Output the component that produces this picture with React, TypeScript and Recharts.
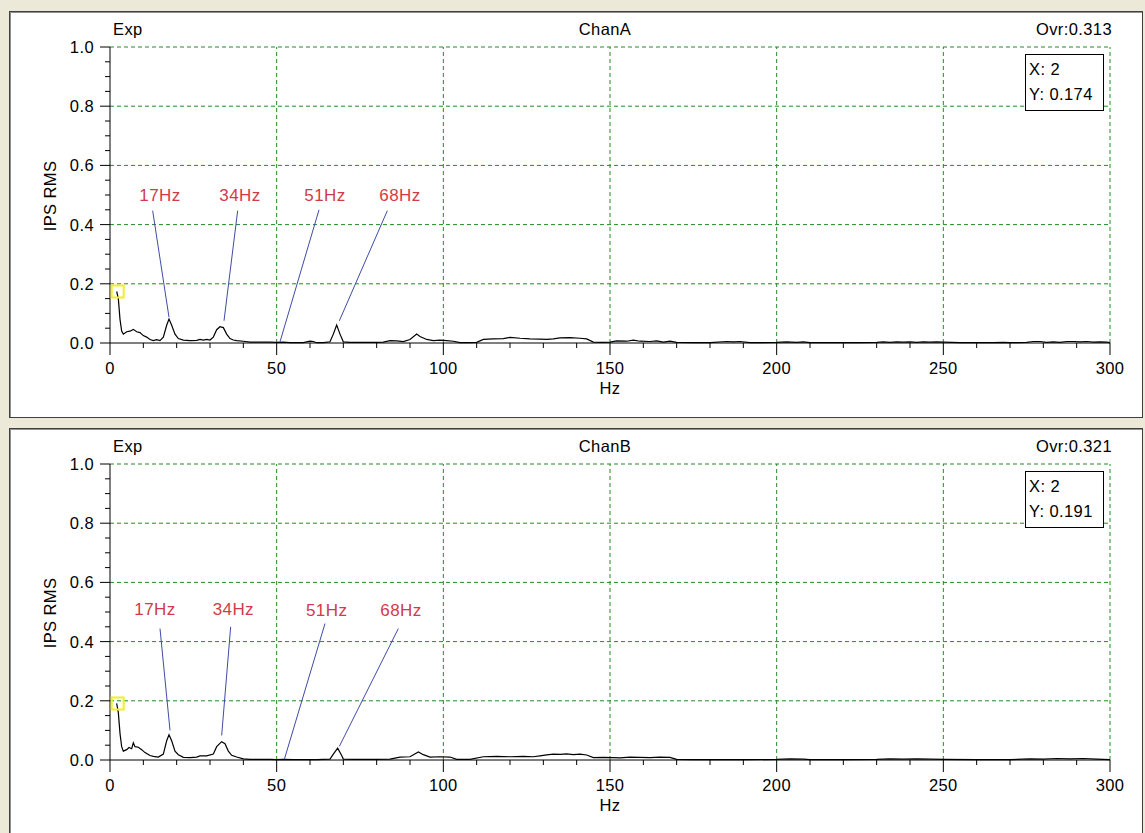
import React from 'react';
import { LineChart, Line, XAxis, YAxis, ReferenceLine, ReferenceDot } from 'recharts';

// spectrum: [Hz, IPS RMS]
const chanA: [number, number][] = [
  [2, 0.174], [2.5, 0.15], [3, 0.08], [3.5, 0.04], [4, 0.03], [5, 0.038], [6, 0.04], [7, 0.046], [8, 0.038],
  [9, 0.035], [10, 0.025], [11, 0.02], [12, 0.012], [13, 0.008], [14, 0.011], [15, 0.008], [16, 0.02],
  [17, 0.06], [17.7, 0.081], [18.5, 0.06], [19.5, 0.03], [20.5, 0.015], [22, 0.01], [24, 0.008], [26, 0.009],
  [27, 0.012], [28, 0.01], [29, 0.012], [30, 0.01], [31, 0.02], [32, 0.045], [33, 0.055], [34, 0.052],
  [35, 0.03], [36, 0.015], [37, 0.01], [38, 0.008], [40, 0.006], [42, 0.003], [45, 0.003], [48, 0.003],
  [50, 0.002], [52, 0.003], [54, 0.001], [56, 0.001], [58, 0.001], [60, 0.006], [61, 0.005], [62, 0.001],
  [64, 0.001], [66, 0.004], [67, 0.03], [68, 0.061], [69, 0.03], [70, 0.004], [72, 0.002], [75, 0.002],
  [78, 0.002], [80, 0.002], [82, 0.003], [84, 0.008], [86, 0.007], [88, 0.005], [90, 0.012], [92, 0.03],
  [93, 0.022], [95, 0.012], [97, 0.008], [99, 0.01], [101, 0.008], [103, 0.006], [105, 0.001], [108, 0.001],
  [110, 0.002], [112, 0.012], [115, 0.014], [118, 0.015], [120, 0.019], [123, 0.016], [126, 0.014],
  [129, 0.013], [131, 0.012], [133, 0.014], [135, 0.017], [138, 0.018], [141, 0.016], [143, 0.014],
  [145, 0.003], [148, 0.002], [150, 0.003], [152, 0.007], [155, 0.006], [157, 0.01], [159, 0.006],
  [162, 0.005], [164, 0.007], [166, 0.003], [168, 0.006], [170, 0.002], [175, 0.001], [180, 0.001],
  [185, 0.005], [187, 0.004], [189, 0.005], [192, 0.001], [195, 0.001], [200, 0.002], [203, 0.004],
  [206, 0.002], [208, 0.004], [210, 0.001], [215, 0.001], [220, 0.001], [225, 0.001], [230, 0.002],
  [232, 0.004], [234, 0.002], [236, 0.004], [238, 0.003], [240, 0.004], [242, 0.002], [244, 0.004],
  [246, 0.003], [248, 0.004], [250, 0.003], [255, 0.001], [260, 0.001], [265, 0.001], [268, 0.002],
  [270, 0.001], [275, 0.002], [277, 0.005], [279, 0.005], [281, 0.002], [283, 0.004], [285, 0.002],
  [287, 0.005], [289, 0.005], [291, 0.004], [293, 0.005], [295, 0.003], [297, 0.004], [299, 0.003], [300, 0.001],
];

const chanB: [number, number][] = [
  [2, 0.191], [2.5, 0.16], [3, 0.09], [3.5, 0.045], [4, 0.03], [5, 0.035], [5.7, 0.042], [6.5, 0.038],
  [7, 0.058], [7.5, 0.045], [8.5, 0.043], [9.5, 0.035], [10.5, 0.025], [12, 0.015], [13, 0.012],
  [14.5, 0.01], [16, 0.02], [17, 0.065], [17.7, 0.085], [18.5, 0.065], [19.5, 0.03], [20.5, 0.018],
  [22, 0.009], [24, 0.008], [26, 0.01], [27, 0.014], [29, 0.014], [31, 0.02], [32, 0.045], [33.5, 0.062],
  [34.5, 0.055], [35.5, 0.03], [36.5, 0.016], [38, 0.01], [40, 0.004], [42, 0.002], [45, 0.002], [48, 0.002],
  [50, 0.001], [52, 0.002], [55, 0.001], [58, 0.001], [62, 0.001], [66, 0.003], [67, 0.02], [68.3, 0.04],
  [69.5, 0.015], [70, 0.003], [73, 0.002], [76, 0.002], [80, 0.002], [84, 0.003], [87, 0.01], [90, 0.011],
  [92.5, 0.027], [94, 0.018], [96, 0.01], [99, 0.011], [102, 0.01], [104, 0.002], [108, 0.002],
  [112, 0.011], [116, 0.012], [120, 0.011], [124, 0.012], [127, 0.011], [129, 0.014], [131, 0.017],
  [133, 0.02], [135, 0.019], [137, 0.021], [139, 0.018], [141, 0.02], [143, 0.017], [145, 0.008],
  [148, 0.009], [151, 0.008], [153, 0.007], [156, 0.01], [159, 0.009], [162, 0.008], [165, 0.01],
  [168, 0.009], [170, 0.002], [175, 0.001], [180, 0.001], [190, 0.001], [200, 0.002], [204, 0.004],
  [208, 0.003], [210, 0.001], [220, 0.001], [230, 0.002], [234, 0.004], [238, 0.003], [242, 0.004],
  [246, 0.003], [250, 0.002], [260, 0.001], [270, 0.001], [276, 0.004], [280, 0.003], [284, 0.005],
  [288, 0.004], [292, 0.005], [296, 0.003], [300, 0.001],
];

const xMajor = [0, 50, 100, 150, 200, 250, 300];
const xTicks = [0, 10, 20, 30, 40, 50, 60, 70, 80, 90, 100, 110, 120, 130, 140, 150, 160, 170, 180, 190, 200,
  210, 220, 230, 240, 250, 260, 270, 280, 290, 300];
const yMajor = [0, 0.2, 0.4, 0.6, 0.8, 1.0];
const yTicks = [0, 0.05, 0.1, 0.15, 0.2, 0.25, 0.3, 0.35, 0.4, 0.45, 0.5, 0.55, 0.6, 0.65, 0.7, 0.75, 0.8,
  0.85, 0.9, 0.95, 1.0];
const gridX = [50, 100, 150, 200, 250, 300];
const gridY = [0.2, 0.4, 0.6, 0.8, 1.0];

const harmonics = ['17Hz', '34Hz', '51Hz', '68Hz'];
// label anchor and pointer ends, per panel, in Hz / IPS
const labelsA: [number, number][] = [[15, 0.5], [39, 0.5], [64.5, 0.5], [87, 0.5]];
const pointersA: [number, number, number, number][] = [
  [12.8, 0.447, 17.7, 0.087], [38.3, 0.447, 34.2, 0.075], [62.7, 0.45, 51, 0.004], [83.2, 0.447, 68.8, 0.075],
];
const labelsB: [number, number][] = [[13.5, 0.51], [37, 0.51], [65, 0.506], [87.3, 0.506]];
const pointersB: [number, number, number, number][] = [
  [15, 0.444, 18, 0.1], [36.2, 0.45, 33.5, 0.083], [64.5, 0.461, 52.3, 0.002], [86.5, 0.444, 68.8, 0.046],
];

const FONT = '"Liberation Sans", Arial, sans-serif';
const GRID = '#238a23';
const FS = 16.5;

const XTick = (props: any) => {
  const { x, y, payload } = props;
  const major = xMajor.includes(payload.value);
  return (
    <g>
      <line x1={x} y1={y} x2={x} y2={y + (major ? 12 : 5)} stroke="#000" />
      {major && (
        <text x={x} y={y + 25} textAnchor="middle" dominantBaseline="central" fontSize={FS} fill="#000" fontFamily={FONT} letterSpacing={0.4}>
          {payload.value}
        </text>
      )}
    </g>
  );
};

const YTick = (props: any) => {
  const { x, y, payload } = props;
  const major = yMajor.includes(payload.value);
  return (
    <g>
      <line x1={x - (major ? 10 : 5)} y1={y} x2={x} y2={y} stroke="#000" />
      {major && (
        <text x={x - 16} y={y} textAnchor="end" dominantBaseline="central" fontSize={FS} fill="#000" fontFamily={FONT} letterSpacing={0.4}>
          {payload.value.toFixed(1)}
        </text>
      )}
    </g>
  );
};

interface PanelProps {
  top: number;
  name: string;
  ovr: string;
  series: [number, number][];
  labels: [number, number][];
  pointers: [number, number, number, number][];
}

const Panel = ({ top, name, ovr, series, labels, pointers }: PanelProps) => {
  const data = series.map(([hz, v]) => ({ hz, v }));
  const [cx, cy] = series[0];
  const text: React.CSSProperties = { position: 'absolute', fontSize: FS, lineHeight: '20px', color: '#000', whiteSpace: 'nowrap', letterSpacing: 0.4 };
  return (
    <div style={{ position: 'absolute', left: 9, top, width: 1132, height: 405, background: '#fff', border: '1px solid #404040', boxShadow: 'inset 1px 1px 0 #909090' }}>
      <LineChart width={1132} height={405} data={data} margin={{ top: 35, right: 32, bottom: 34, left: 40 }}>
        <XAxis type="number" dataKey="hz" domain={[0, 300]} ticks={xTicks} interval={0} tick={<XTick />} tickLine={false} tickSize={0} tickMargin={0} height={40} axisLine={{ stroke: '#000' }} />
        <YAxis type="number" domain={[0, 1]} ticks={yTicks} interval={0} tick={<YTick />} tickLine={false} tickSize={0} tickMargin={0} width={60} axisLine={{ stroke: '#000' }} />
        {gridY.map((g) => (
          <ReferenceLine key={`gy${g}`} y={g} stroke={GRID} strokeDasharray="4 3" />
        ))}
        {gridX.map((g) => (
          <ReferenceLine key={`gx${g}`} x={g} stroke={GRID} strokeDasharray="4 3" />
        ))}
        <Line type="linear" dataKey="v" stroke="#000" strokeWidth={1.2} dot={false} isAnimationActive={false} />
        <ReferenceDot x={cx} y={cy} r={6} shape={(p: any) => (
          <rect x={p.cx - 5} y={p.cy - 6} width={12} height={12} fill="none" stroke="#f2f020" strokeWidth={2} />
        )} />
        {pointers.map(([x1, y1, x2, y2], i) => (
          <ReferenceLine key={`p${i}`} segment={[{ x: x1, y: y1 }, { x: x2, y: y2 }]} stroke="#3f4ca4" strokeWidth={1} />
        ))}
        {labels.map(([lx, ly], i) => (
          <ReferenceDot key={`l${i}`} x={lx} y={ly} r={1} shape={(p: any) => (
            <text x={p.cx} y={p.cy} textAnchor="middle" dominantBaseline="central" fontSize={17} fill="#d23a48" fontFamily={FONT} letterSpacing={0.4}>
              {harmonics[i]}
            </text>
          )} />
        ))}
      </LineChart>
      <div style={{ ...text, left: 103, top: 7 }}>Exp</div>
      <div style={{ ...text, left: 545, width: 100, top: 7, textAlign: 'center' }}>{name}</div>
      <div style={{ ...text, right: 30, top: 7 }}>{ovr}</div>
      <div style={{ ...text, left: 575, width: 50, top: 366, textAlign: 'center' }}>Hz</div>
      <div style={{ ...text, left: -10, top: 174, width: 100, textAlign: 'center', transform: 'rotate(-90deg)' }}>IPS RMS</div>
      <div style={{ position: 'absolute', left: 1015, top: 42, width: 79, height: 57, border: '1px solid #000', background: '#fff', fontSize: FS, letterSpacing: 0.4, lineHeight: '25px', paddingLeft: 3, boxSizing: 'border-box', paddingTop: 2 }}>
        <div>X: {cx}</div>
        <div>Y: {cy.toFixed(3)}</div>
      </div>
    </div>
  );
};

export default function App() {
  return (
    <div style={{ position: 'absolute', left: 0, top: 0, width: 1145, height: 833, background: '#ece9d8', overflow: 'hidden', fontFamily: FONT }}>
      <Panel top={11} name="ChanA" ovr="Ovr:0.313" series={chanA} labels={labelsA} pointers={pointersA} />
      <Panel top={428} name="ChanB" ovr="Ovr:0.321" series={chanB} labels={labelsB} pointers={pointersB} />
    </div>
  );
}
